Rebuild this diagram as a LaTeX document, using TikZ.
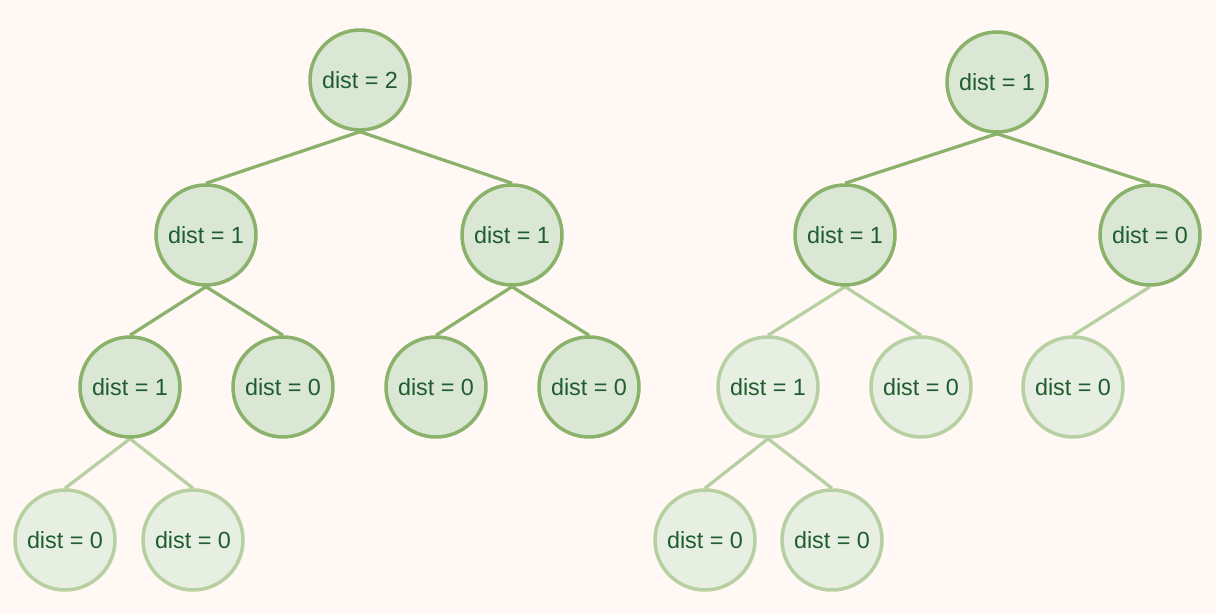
\documentclass[tikz,border=0pt]{standalone}
\usepackage{fontspec}
\setmainfont{Liberation Sans}
\usepackage{tikz}
\usetikzlibrary{backgrounds}
\definecolor{bgcol}{HTML}{FFF8F4}
\definecolor{hotfill}{HTML}{D9E7D4}
\definecolor{hotline}{HTML}{8AB26A}
\definecolor{coldfill}{HTML}{E7EEE2}
\definecolor{coldline}{HTML}{B7D0A2}
\definecolor{txtcol}{HTML}{1F5C30}

\begin{document}
\begin{tikzpicture}[x=0.02cm,y=-0.02cm,
  hot/.style={circle,draw=hotline,fill=hotfill,line width=0.07cm,minimum size=2.0cm,inner sep=0pt,text=txtcol,font=\fontsize{13.3}{15}\selectfont},
  cold/.style={hot,draw=coldline,fill=coldfill},
  hotedge/.style={draw=hotline,line width=0.065cm},
  coldedge/.style={draw=coldline,line width=0.065cm}]
  \useasboundingbox (0,0) rectangle (1216,614);
  % left tree
  \node[hot] (lr) at (360,80) {dist = 2};
  \node[hot] (la) at (206,235) {dist = 1};
  \node[hot] (lb) at (512,235) {dist = 1};
  \node[hot] (laa) at (130,387) {dist = 1};
  \node[hot] (lab) at (283,387) {dist = 0};
  \node[hot] (lba) at (436,387) {dist = 0};
  \node[hot] (lbb) at (589,387) {dist = 0};
  \node[cold] (laaa) at (65,540) {dist = 0};
  \node[cold] (laab) at (193,540) {dist = 0};
  % right tree
  \node[hot] (rr) at (997,82) {dist = 1};
  \node[hot] (ra) at (845,235) {dist = 1};
  \node[hot] (rb) at (1150,235) {dist = 0};
  \node[cold] (raa) at (768,387) {dist = 1};
  \node[cold] (rab) at (921,387) {dist = 0};
  \node[cold] (rba) at (1073,387) {dist = 0};
  \node[cold] (raaa) at (705,540) {dist = 0};
  \node[cold] (raab) at (832,540) {dist = 0};
  % edges, parent bottom to child top, behind the nodes
  \begin{pgfonlayer}{background}
    \fill[bgcol] (0,0) rectangle (1216,614);
    \foreach \p/\c in {lr/la,lr/lb,la/laa,la/lab,lb/lba,lb/lbb,rr/ra,rr/rb}
      \draw[hotedge] (\p.south) -- (\c.north);
    \foreach \p/\c in {laa/laaa,laa/laab,ra/raa,ra/rab,rb/rba,raa/raaa,raa/raab}
      \draw[coldedge] (\p.south) -- (\c.north);
  \end{pgfonlayer}
\end{tikzpicture}
\end{document}
